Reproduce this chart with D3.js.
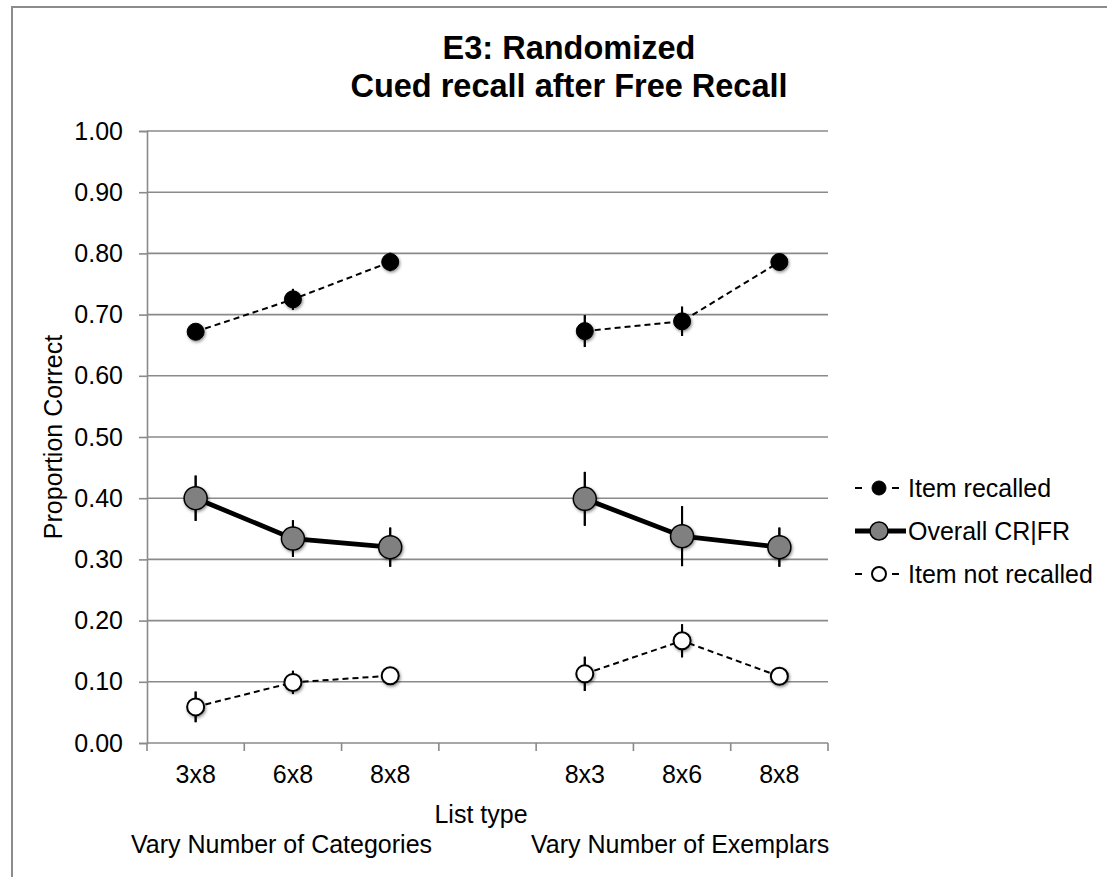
<!DOCTYPE html>
<html>
<head>
<meta charset="utf-8">
<script src="https://cdn.jsdelivr.net/npm/d3@7/dist/d3.min.js"></script>
<style>
  html, body { margin: 0; padding: 0; background: #fff; }
  svg { display: block; font-family: "Liberation Sans", Arial, sans-serif; }
</style>
</head>
<body>
<svg id="chart" width="1107" height="877"></svg>
<script>
// Category slots along the x axis (slot 3 is an empty spacer between the two list groups)
const slots = [0, 1, 2, 3, 4, 5, 6];
const slotLabels = ["3x8", "6x8", "8x8", "", "8x3", "8x6", "8x8"];
const yTicks = [0, 0.1, 0.2, 0.3, 0.4, 0.5, 0.6, 0.7, 0.8, 0.9, 1.0];

// Proportion correct per list type, with standard error
const itemRecalled      = [0.672, 0.725, 0.786, null, 0.673, 0.689, 0.786];
const itemRecalledErr   = [0.010, 0.017, 0.015, null, 0.026, 0.024, 0.014];
const overallCR         = [0.400, 0.334, 0.320, null, 0.399, 0.338, 0.320];
const overallCRErr      = [0.037, 0.030, 0.032, null, 0.044, 0.049, 0.032];
const itemNotRecalled   = [0.059, 0.099, 0.110, null, 0.113, 0.167, 0.109];
const itemNotRecalledErr= [0.025, 0.019, 0.013, null, 0.028, 0.027, 0.012];

const seriesNames = ["Item recalled", "Overall CR|FR", "Item not recalled"];
const groupLabels = ["Vary Number of Categories", "Vary Number of Exemplars"];

const FS = 25;
const svg = d3.select("#chart");
const plot = { left: 147, right: 828, top: 131, bottom: 743 };

// soft shadow under the markers
const defs = svg.append("defs");
const f = defs.append("filter").attr("id", "shadow")
  .attr("x", "-50%").attr("y", "-50%").attr("width", "200%").attr("height", "200%");
f.append("feDropShadow").attr("dx", 1).attr("dy", 1.5).attr("stdDeviation", 1.6)
  .attr("flood-color", "#000").attr("flood-opacity", 0.45);

// outer frame
svg.append("rect").attr("x", 12).attr("y", 7).attr("width", 1200).attr("height", 900)
  .attr("fill", "none").attr("stroke", "#8c8c8c").attr("stroke-width", 2);

const x = d3.scaleBand().domain(slots).range([plot.left, plot.right]).padding(0);
const y = d3.scaleLinear().domain([0, 1]).range([plot.bottom, plot.top]);
const cx = i => x(i) + x.bandwidth() / 2;

// gridlines
svg.append("g").selectAll("line").data(yTicks.slice(1)).join("line")
  .attr("x1", plot.left).attr("x2", plot.right)
  .attr("y1", d => y(d)).attr("y2", d => y(d))
  .attr("stroke", "#8a8a8a").attr("stroke-width", 1.6);

// y axis
const yAxis = svg.append("g").attr("transform", `translate(${plot.left},0)`)
  .call(d3.axisLeft(y).tickValues(yTicks).tickFormat(d3.format(".2f")).tickSize(8).tickPadding(16));
yAxis.select(".domain").attr("stroke", "#8a8a8a").attr("stroke-width", 1.6);
yAxis.selectAll(".tick line").attr("stroke", "#8a8a8a").attr("stroke-width", 1.6);
yAxis.selectAll(".tick text").attr("font-size", FS).attr("fill", "#000")
  .attr("font-family", "Liberation Sans, Arial, sans-serif");

// x axis: line plus tick marks at slot boundaries
const xg = svg.append("g");
xg.append("line").attr("x1", plot.left).attr("x2", plot.right)
  .attr("y1", plot.bottom).attr("y2", plot.bottom)
  .attr("stroke", "#8a8a8a").attr("stroke-width", 1.6);
const bounds = slots.map(i => x(i)).concat([plot.right]);
xg.selectAll("line.tk").data(bounds).join("line").attr("class", "tk")
  .attr("x1", d => d).attr("x2", d => d)
  .attr("y1", plot.bottom).attr("y2", plot.bottom + 8)
  .attr("stroke", "#8a8a8a").attr("stroke-width", 1.6);
xg.selectAll("text").data(slots).join("text")
  .attr("x", i => cx(i)).attr("y", 783)
  .attr("text-anchor", "middle").attr("font-size", FS).attr("fill", "#000")
  .text(i => slotLabels[i]);

// axis titles
svg.append("text").attr("x", 481).attr("y", 823).attr("text-anchor", "middle")
  .attr("font-size", FS).text("List type");
svg.append("text").attr("x", 131).attr("y", 853).attr("font-size", FS).text(groupLabels[0]);
svg.append("text").attr("x", 531).attr("y", 853).attr("font-size", FS).text(groupLabels[1]);
svg.append("text").attr("transform", `translate(62,${(plot.top + plot.bottom) / 2}) rotate(-90)`)
  .attr("text-anchor", "middle").attr("font-size", FS).text("Proportion Correct");

// title
const title = svg.append("text").attr("text-anchor", "middle")
  .attr("font-size", 32.5).attr("font-weight", "bold");
title.append("tspan").attr("x", 569).attr("y", 59).text("E3: Randomized");
title.append("tspan").attr("x", 569).attr("y", 97).text("Cued recall after Free Recall");

// series definitions
const series = [
  { name: seriesNames[0], vals: itemRecalled, err: itemRecalledErr, fill: "#000", r: 8.5, lw: 2, dash: "6,4", sw: 1, lr: 7 },
  { name: seriesNames[1], vals: overallCR, err: overallCRErr, fill: "#808080", r: 11.5, lw: 4.8, dash: null, sw: 1.5, lr: 9 },
  { name: seriesNames[2], vals: itemNotRecalled, err: itemNotRecalledErr, fill: "#fff", r: 8.5, lw: 2, dash: "6,4", sw: 2, lr: 7 }
];

series.forEach(s => {
  const g = svg.append("g");
  const pts = slots.filter(i => s.vals[i] != null);
  const line = d3.line().defined(i => s.vals[i] != null)
    .x(i => cx(i)).y(i => y(s.vals[i]));
  // error bars
  g.selectAll("line.err").data(pts).join("line")
    .attr("class", "err")
    .attr("x1", i => cx(i)).attr("x2", i => cx(i))
    .attr("y1", i => y(s.vals[i] - s.err[i])).attr("y2", i => y(s.vals[i] + s.err[i]))
    .attr("stroke", "#000").attr("stroke-width", 2);
  // connecting line
  g.append("path").attr("d", line(slots)).attr("fill", "none")
    .attr("stroke", "#000").attr("stroke-width", s.lw)
    .attr("stroke-dasharray", s.dash);
  // markers
  g.selectAll("circle").data(pts).join("circle")
    .attr("cx", i => cx(i)).attr("cy", i => y(s.vals[i])).attr("r", s.r)
    .attr("fill", s.fill).attr("stroke", "#000").attr("stroke-width", s.sw)
    .attr("filter", "url(#shadow)");
  // error bar whiskers drawn over the marker edge
  g.selectAll("line.lo").data(pts).join("line")
    .attr("class", "lo")
    .attr("x1", i => cx(i)).attr("x2", i => cx(i))
    .attr("y1", i => y(s.vals[i] - s.err[i])).attr("y2", i => Math.min(y(s.vals[i] - s.err[i]), y(s.vals[i]) + s.r))
    .attr("stroke", "#000").attr("stroke-width", 2);
  g.selectAll("line.hi").data(pts).join("line")
    .attr("class", "hi")
    .attr("x1", i => cx(i)).attr("x2", i => cx(i))
    .attr("y1", i => y(s.vals[i] + s.err[i])).attr("y2", i => Math.max(y(s.vals[i] + s.err[i]), y(s.vals[i]) - s.r))
    .attr("stroke", "#000").attr("stroke-width", 2);
});

// legend
const legY = [488, 531, 574];
const lg = svg.append("g");
series.forEach((s, k) => {
  const yy = legY[k];
  if (s.dash) {
    lg.append("line").attr("x1", 855).attr("x2", 862).attr("y1", yy).attr("y2", yy)
      .attr("stroke", "#000").attr("stroke-width", 2);
    lg.append("line").attr("x1", 892).attr("x2", 899).attr("y1", yy).attr("y2", yy)
      .attr("stroke", "#000").attr("stroke-width", 2);
  } else {
    lg.append("line").attr("x1", 855).attr("x2", 906).attr("y1", yy).attr("y2", yy)
      .attr("stroke", "#000").attr("stroke-width", 4.8);
  }
  lg.append("circle").attr("cx", 879).attr("cy", yy).attr("r", s.lr)
    .attr("fill", s.fill).attr("stroke", "#000").attr("stroke-width", s.sw);
  lg.append("text").attr("x", 908).attr("y", yy + 9).attr("font-size", FS).text(s.name);
});
</script>
</body>
</html>
